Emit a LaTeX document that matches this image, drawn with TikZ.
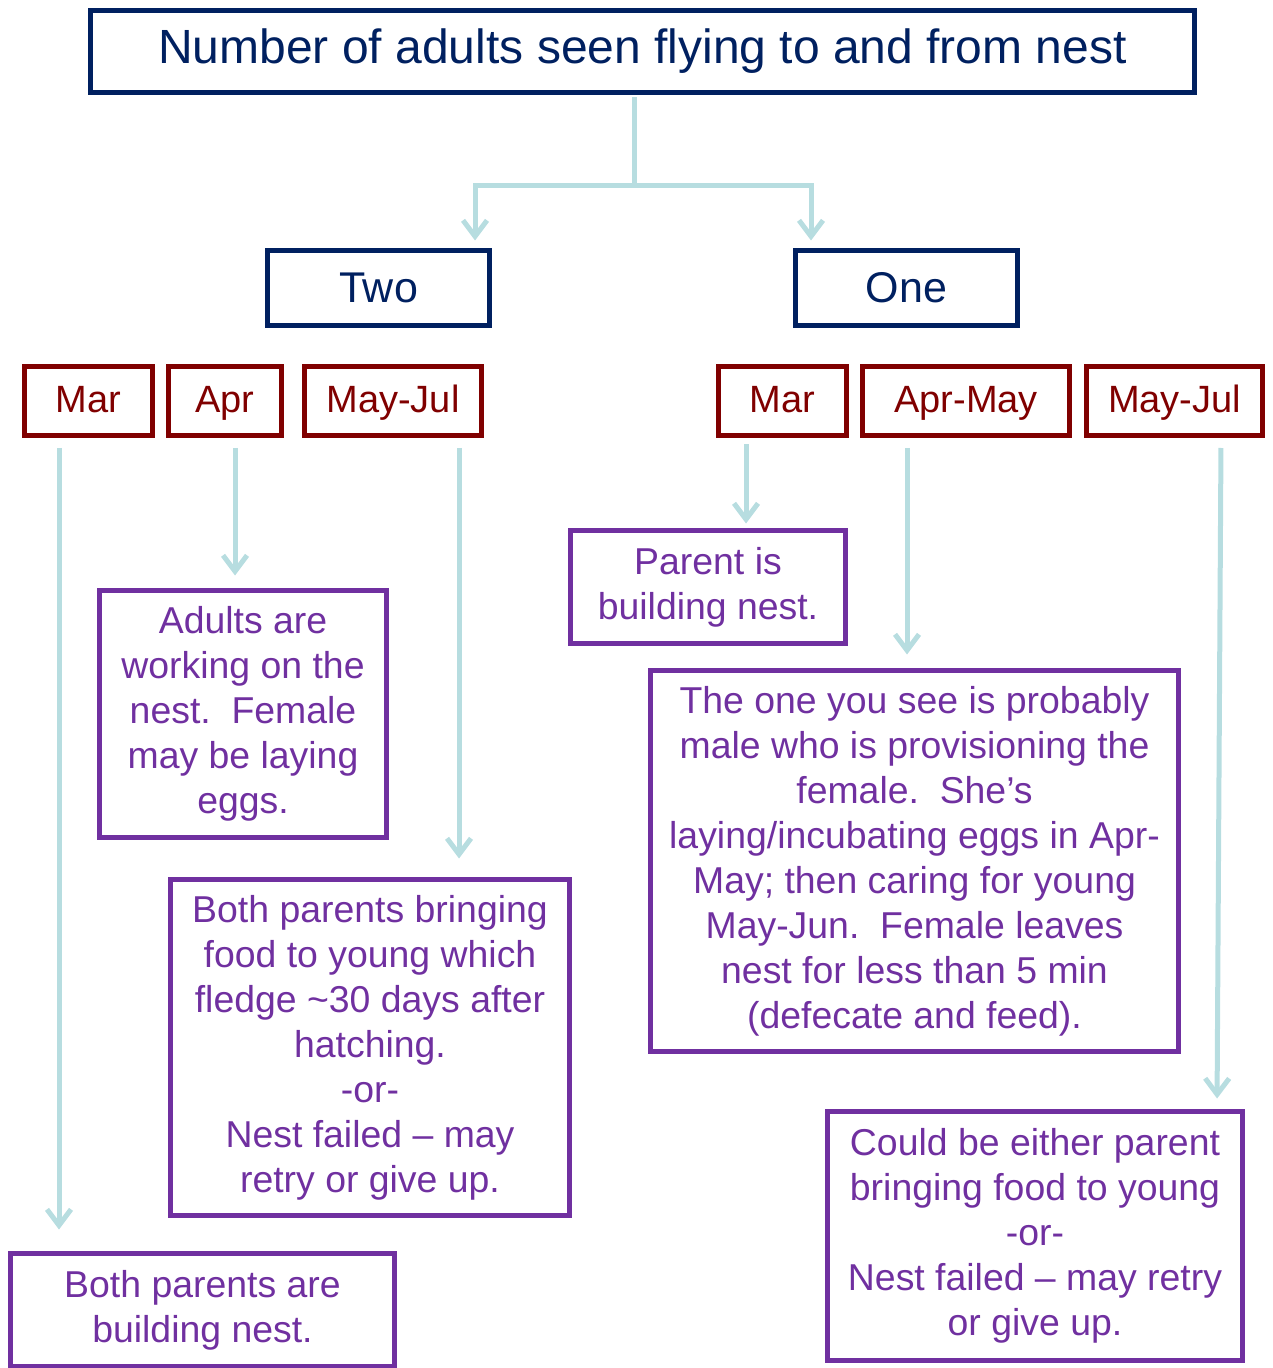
\documentclass[tikz,border=0pt]{standalone}
\usepackage{fontspec}
\setmainfont{Liberation Sans}
\usetikzlibrary{arrows.meta}
\definecolor{titleblue}{HTML}{002060}
\definecolor{monthred}{HTML}{800000}
\definecolor{notepurple}{HTML}{7030A0}
\definecolor{linkteal}{HTML}{B7DDE0}

\begin{document}
\begin{tikzpicture}[
    x=0.5pt, y=-0.5pt,
    all/.style={line width=2.5pt, inner sep=0pt, align=center},
    head/.style={all, draw=titleblue, text=titleblue},
    month/.style={all, draw=monthred, text=monthred, minimum height=34.5pt,
        text height=14.75pt, text depth=3.25pt, font=\fontsize{19}{23}\selectfont},
    note/.style={all, draw=notepurple, text=notepurple,
        font=\fontsize{18.7}{22.5}\selectfont},
    link/.style={draw=linkteal, line width=2.5pt, shorten <=5pt,
        -{Straight Barb[length=8pt, width=12pt]}},
]
    \useasboundingbox (0,0) rectangle (1272,1368);

    \node [head, minimum width=552pt, minimum height=41pt, font=\fontsize{24}{28}\selectfont]
        (title) at (642.5,51.5) {Number of adults seen flying to and from nest};
    \node [head, minimum width=111pt, minimum height=37.5pt, font=\fontsize{21.5}{25}\selectfont]
        (two) at (378.5,288) {Two};
    \node [head, minimum width=111pt, minimum height=37.5pt, font=\fontsize{21.5}{25}\selectfont]
        (one) at (906.5,288) {One};

    % months
    \node [month, minimum width=64pt] (marTwo) at (88.5,401) {Mar};
    \node [month, minimum width=56.5pt] (aprTwo) at (225,401) {Apr};
    \node [month, minimum width=88.5pt] (mayTwo) at (393,401) {May-Jul};
    \node [month, minimum width=64pt] (marOne) at (782.5,401) {Mar};
    \node [month, minimum width=103.5pt] (aprOne) at (966,401) {Apr-May};
    \node [month, minimum width=88pt] (mayOne) at (1174.5,401) {May-Jul};

    % notes
    \node [note, minimum width=143.5pt, minimum height=123.5pt] (working) at (243,714)
        {Adults are\\working on the\\nest.\ \ Female\\may be laying\\eggs.};
    \node [note, minimum width=199.5pt, minimum height=168pt] (bringing) at (370,1047.5)
        {Both parents bringing\\food to young which\\fledge \textasciitilde30 days after\\hatching.\\-or-\\Nest failed – may\\retry or give up.};
    \node [note, minimum width=192pt, minimum height=56.5pt] (building) at (202.5,1310)
        {Both parents are\\building nest.};
    \node [note, minimum width=137.5pt, minimum height=56.5pt] (parent) at (708,587)
        {Parent is\\building nest.};
    \node [note, minimum width=264pt, minimum height=190.5pt] (male) at (914.5,861)
        {The one you see is probably\\male who is provisioning the\\female.\ \ She’s\\laying/incubating eggs in Apr-\\May; then caring for young\\May-Jun.\ \ Female leaves\\nest for less than 5 min\\(defecate and feed).};
    \node [note, minimum width=207.5pt, minimum height=124.5pt] (either) at (1035,1236)
        {Could be either parent\\bringing food to young\\-or-\\Nest failed – may retry\\or give up.};

    % connectors
    \coordinate (split) at (634,186);
    \draw [link, shorten <=1.25pt, shorten >=3.75pt] (title.south -| split) -- (split) -| ([xshift=48.25pt]two.north);
    \draw [link, shorten <=0pt, shorten >=3.75pt] (split) -| ([xshift=-47.75pt]one.north);

    \draw [link, shorten >=10.75pt] ([xshift=-14.75pt]marTwo.south) -- ([xshift=-14.75pt]marTwo.south |- building.north);
    \draw [link, shorten >=6.25pt] ([xshift=5pt]aprTwo.south) -- ([xshift=5pt]aprTwo.south |- working.north);
    \draw [link, shorten >=9.25pt] ([xshift=33pt]mayTwo.south) -- ([xshift=33pt]mayTwo.south |- bringing.north);
    \draw [link, shorten <=3.25pt, shorten >=2.25pt] ([xshift=-18.25pt]marOne.south) -- ([xshift=-18.25pt]marOne.south |- parent.north);
    \draw [link, shorten >=6.75pt] ([xshift=-29.5pt]aprOne.south) -- ([xshift=-29.5pt]aprOne.south |- male.north);
    \draw [link, shorten >=5.25pt] ([xshift=23.25pt]mayOne.south) -- ([xshift=91pt]either.north);
\end{tikzpicture}
\end{document}
